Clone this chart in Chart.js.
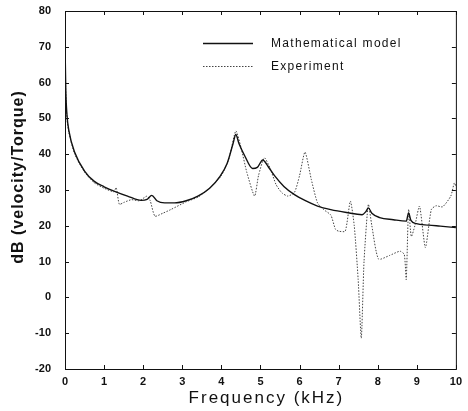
<!DOCTYPE html>
<html>
<head>
<meta charset="utf-8">
<script src="https://cdn.jsdelivr.net/npm/chart.js@4"></script>
<style>
  html, body { margin: 0; padding: 0; background: #fff; }
  #wrap { width: 468px; height: 411px; }
</style>
</head>
<body>
<div id="wrap"><canvas id="chart" width="468" height="411"></canvas></div>
<script>
// Frequency (kHz) / dB values
const modelFreq = [0, 0.02, 0.05, 0.1, 0.25, 0.5, 0.75, 1.0, 1.3, 1.6, 1.95, 2.1, 2.22, 2.35, 2.55, 2.8, 3.1, 3.4, 3.7, 3.97, 4.15, 4.3, 4.37, 4.45, 4.6, 4.8, 4.92, 5.06, 5.2, 5.36, 5.6, 5.87, 6.15, 6.46, 6.8, 7.2, 7.6, 7.7, 7.76, 7.85, 8.05, 8.4, 8.73, 8.79, 8.85, 8.99, 9.3, 9.6, 10];
const modelDb   = [71, 58, 51, 46.5, 40.5, 35.3, 32.4, 30.9, 29.5, 28.3, 27.1, 27.4, 28.5, 27, 26.4, 26.4, 27, 28.3, 30.5, 33.9, 37.5, 43, 45.5, 43, 39.5, 36, 36.3, 38.4, 36.5, 34, 31, 28.7, 27, 25.5, 24.5, 23.7, 23.1, 24, 25, 23.5, 22.3, 21.7, 21.3, 23.6, 21.5, 20.6, 20.2, 19.9, 19.5];

const expFreq = [0, 0.02, 0.05, 0.1, 0.25, 0.5, 0.75, 1.0, 1.25, 1.31, 1.39, 1.5, 1.7, 1.9, 2.1, 2.18, 2.3, 2.5, 2.7, 3.1, 3.4, 3.7, 4.0, 4.2, 4.37, 4.5, 4.65, 4.85, 4.95, 5.1, 5.25, 5.4, 5.55, 5.7, 5.87, 6.0, 6.14, 6.3, 6.46, 6.62, 6.8, 6.92, 7.0, 7.17, 7.3, 7.4, 7.5, 7.58, 7.65, 7.76, 7.85, 8.02, 8.3, 8.57, 8.68, 8.73, 8.79, 8.86, 8.95, 9.07, 9.22, 9.37, 9.49, 9.66, 9.87, 9.96, 10];
const expDb   = [71, 57, 50, 46, 40, 35, 32, 30.5, 29.5, 30.7, 26, 26.5, 27.3, 27, 28.3, 27, 22.7, 23.5, 24.5, 26.7, 28, 30.5, 34, 39, 46.5, 42, 35, 28.3, 34, 39, 36, 31.5, 29.2, 28.3, 29.3, 34, 40.6, 33, 26.4, 24.5, 23, 19, 18.5, 18.5, 26.9, 20, 5, -11.4, 10, 26, 20, 10.7, 11.7, 12.9, 12, 5, 24.6, 17, 20, 25.5, 13.9, 24.5, 25.6, 25.3, 28.3, 32, 31];

const xTicks = [0, 1, 2, 3, 4, 5, 6, 7, 8, 9, 10];
const yTicks = [-20, -10, 0, 10, 20, 30, 40, 50, 60, 70, 80];
const seriesNames = ['Mathematical model', 'Experiment'];
const xTitle = 'Frequency (kHz)';
const yTitle = 'dB (velocity/Torque)';

const FONT = '"Liberation Sans", Arial, sans-serif';
const toPoints = (xs, ys) => xs.map((x, i) => ({ x, y: ys[i] }));

// frame + inward ticks on all four sides, like the scanned plot
const framePlugin = {
  id: 'frame',
  afterDraw(chart) {
    const { ctx, chartArea: a, scales } = chart;
    ctx.save();
    ctx.strokeStyle = '#111';
    ctx.lineWidth = 1;
    ctx.strokeRect(a.left + 0.5, a.top + 0.5, a.right - a.left, a.bottom - a.top);
    ctx.beginPath();
    xTicks.forEach(v => {
      const px = Math.round(scales.x.getPixelForValue(v)) + 0.5;
      ctx.moveTo(px, a.bottom); ctx.lineTo(px, a.bottom - 4);
      ctx.moveTo(px, a.top); ctx.lineTo(px, a.top + 4);
    });
    yTicks.forEach(v => {
      const py = Math.round(scales.y.getPixelForValue(v)) + 0.5;
      ctx.moveTo(a.left, py); ctx.lineTo(a.left + 4, py);
      ctx.moveTo(a.right, py); ctx.lineTo(a.right - 4, py);
    });
    ctx.stroke();
    ctx.restore();
  }
};

// axis titles with letter spacing (chart.js titles can't do that)
const titlePlugin = {
  id: 'titles',
  afterDraw(chart) {
    const { ctx, chartArea: a } = chart;
    ctx.save();
    ctx.fillStyle = '#111';
    ctx.textAlign = 'center';
    ctx.textBaseline = 'middle';
    ctx.font = '17px ' + FONT;
    ctx.letterSpacing = '2px';
    ctx.fillText(xTitle, (a.left + a.right) / 2 + 6, chart.height - 13);
    ctx.translate(19, (a.top + a.bottom) / 2 - 13);
    ctx.rotate(-Math.PI / 2);
    ctx.font = 'bold 16px ' + FONT;
    ctx.letterSpacing = '1px';
    ctx.fillText(yTitle, 0, 0);
    ctx.restore();
  }
};

// legend inside the plot, upper right
const legendPlugin = {
  id: 'innerLegend',
  afterDraw(chart) {
    const { ctx, chartArea: a } = chart;
    const x0 = a.left + 138, y0 = a.top + 32, rowH = 23;
    ctx.save();
    ctx.font = '12px ' + FONT;
    ctx.letterSpacing = '1.3px';
    ctx.textBaseline = 'middle';
    ctx.fillStyle = '#111';
    chart.data.datasets.forEach((ds, i) => {
      const y = y0 + i * rowH + 0.5;
      ctx.beginPath();
      ctx.strokeStyle = ds.borderColor;
      ctx.lineWidth = ds.borderWidth;
      ctx.setLineDash(ds.borderDash || []);
      ctx.moveTo(x0, y); ctx.lineTo(x0 + 50, y);
      ctx.stroke();
      ctx.setLineDash([]);
      ctx.fillText(seriesNames[i], x0 + 68, y);
    });
    ctx.restore();
  }
};

const tickFont = { family: FONT, size: 11, weight: 'bold' };

new Chart(document.getElementById('chart'), {
  type: 'line',
  data: {
    datasets: [
      {
        label: seriesNames[0],
        data: toPoints(modelFreq, modelDb),
        borderColor: '#111',
        borderWidth: 1.4,
        pointRadius: 0,
        cubicInterpolationMode: 'monotone',
      },
      {
        label: seriesNames[1],
        data: toPoints(expFreq, expDb),
        borderColor: '#444',
        borderWidth: 1,
        borderDash: [1.5, 1.5],
        pointRadius: 0,
        tension: 0.2,
      },
    ],
  },
  options: {
    responsive: false,
    animation: false,
    layout: { padding: { top: 11, right: 8, left: 0, bottom: 0 } },
    plugins: {
      legend: { display: false },
      tooltip: { enabled: false },
    },
    scales: {
      x: {
        type: 'linear',
        min: 0, max: 10,
        afterBuildTicks: s => { s.ticks = xTicks.map(v => ({ value: v })); },
        afterFit: s => { s.height = 42; },
        grid: { display: false, drawTicks: false },
        border: { display: false },
        ticks: { color: '#111', font: tickFont, padding: 6, maxRotation: 0 },
      },
      y: {
        type: 'linear',
        min: -20, max: 80,
        afterBuildTicks: s => { s.ticks = yTicks.map(v => ({ value: v })); },
        afterFit: s => { s.width = 65; s.paddingTop = 0; s.paddingBottom = 0; },
        grid: { display: false, drawTicks: false },
        border: { display: false },
        ticks: { color: '#111', font: tickFont, padding: 14 },
      },
    },
  },
  plugins: [framePlugin, titlePlugin, legendPlugin],
});
</script>
</body>
</html>
